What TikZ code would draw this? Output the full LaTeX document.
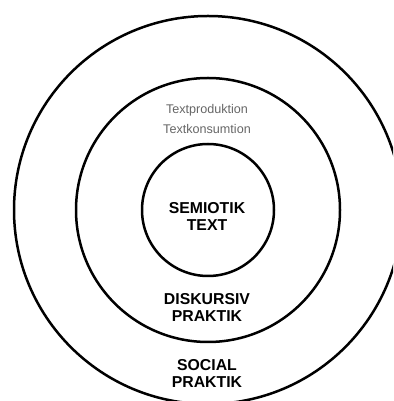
\documentclass[tikz,border=0pt]{standalone}
\usepackage{fontspec}
\setmainfont{Liberation Sans}
\usetikzlibrary{positioning}

\begin{document}
\begin{tikzpicture}[x=1pt, y=1pt,
  ring/.style={draw, circle, line width=2.5pt, inner sep=0pt},
  lvl/.style={font=\bfseries\fontsize{15.8}{17.3}\selectfont, align=center, anchor=base},
  act/.style={font=\fontsize{12.6}{20}\selectfont, text=black!60, align=center, anchor=base}]
\useasboundingbox (0,0) rectangle (393,401);
\clip (0,0) rectangle (393,401);
\coordinate (c) at (208,191);
% three rings, same centre
\node[ring, minimum size=388pt] (social) at (c) {};
\node[ring, minimum size=264pt] (diskursiv) at (c) {};
\node[ring, minimum size=132pt] (semiotik) at (c) {};
% labels (base = last line)
\path (207,170) node[lvl] (semtxt) {SEMIOTIK\\TEXT};
\path (207,79) node[lvl] (disktxt) {DISKURSIV\\PRAKTIK};
\path (207,13) node[lvl] (soctxt) {SOCIAL\\PRAKTIK};
\path (207,267.5) node[act] (prodtxt) {Textproduktion\\Textkonsumtion};
\end{tikzpicture}
\end{document}
